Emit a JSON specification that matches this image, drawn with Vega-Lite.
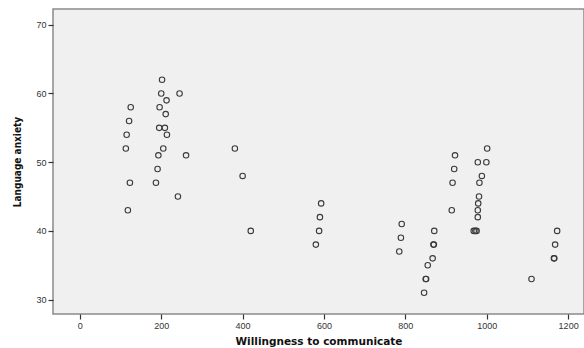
{
  "$schema": "https://vega.github.io/schema/vega-lite/v6.json",
  "width": 531,
  "height": 305,
  "autosize": {"type": "none"},
  "padding": {"left": 53, "top": 9, "right": 0, "bottom": 34},
  "background": "white",
  "view": {"fill": "#f0f0f0", "stroke": "#8a8a8a", "strokeWidth": 1.5},
  "data": {
    "values": [
      {"wtc": 202, "anx": 62}, {"wtc": 200, "anx": 60}, {"wtc": 245, "anx": 60},
      {"wtc": 213, "anx": 59}, {"wtc": 125, "anx": 58}, {"wtc": 196, "anx": 58},
      {"wtc": 211, "anx": 57}, {"wtc": 121, "anx": 56}, {"wtc": 195, "anx": 55},
      {"wtc": 209, "anx": 55}, {"wtc": 115, "anx": 54}, {"wtc": 214, "anx": 54},
      {"wtc": 113, "anx": 52}, {"wtc": 205, "anx": 52}, {"wtc": 193, "anx": 51},
      {"wtc": 261, "anx": 51}, {"wtc": 191, "anx": 49}, {"wtc": 123, "anx": 47},
      {"wtc": 187, "anx": 47}, {"wtc": 241, "anx": 45}, {"wtc": 118, "anx": 43},
      {"wtc": 381, "anx": 52}, {"wtc": 400, "anx": 48}, {"wtc": 420, "anx": 40},
      {"wtc": 593, "anx": 44}, {"wtc": 590, "anx": 42}, {"wtc": 588, "anx": 40},
      {"wtc": 580, "anx": 38},
      {"wtc": 791, "anx": 41}, {"wtc": 789, "anx": 39}, {"wtc": 785, "anx": 37},
      {"wtc": 871, "anx": 40}, {"wtc": 869, "anx": 38}, {"wtc": 870, "anx": 38},
      {"wtc": 867, "anx": 36}, {"wtc": 855, "anx": 35}, {"wtc": 850, "anx": 33},
      {"wtc": 851, "anx": 33}, {"wtc": 846, "anx": 31},
      {"wtc": 1001, "anx": 52}, {"wtc": 922, "anx": 51}, {"wtc": 978, "anx": 50},
      {"wtc": 999, "anx": 50}, {"wtc": 920, "anx": 49}, {"wtc": 988, "anx": 48},
      {"wtc": 916, "anx": 47}, {"wtc": 982, "anx": 47}, {"wtc": 981, "anx": 45},
      {"wtc": 979, "anx": 44}, {"wtc": 978, "anx": 43}, {"wtc": 914, "anx": 43},
      {"wtc": 978, "anx": 42}, {"wtc": 968, "anx": 40}, {"wtc": 972, "anx": 40},
      {"wtc": 975, "anx": 40},
      {"wtc": 1173, "anx": 40}, {"wtc": 1168, "anx": 38}, {"wtc": 1165, "anx": 36},
      {"wtc": 1166, "anx": 36}, {"wtc": 1110, "anx": 33}
    ]
  },
  "mark": {"type": "point", "shape": "circle", "filled": false, "stroke": "#3a3a3a", "strokeWidth": 1.1, "size": 30, "opacity": 1},
  "encoding": {
    "x": {
      "field": "wtc", "type": "quantitative",
      "scale": {"domain": [-66, 1239], "nice": false, "zero": false},
      "axis": {
        "title": "Willingness to communicate",
        "values": [0, 200, 400, 600, 800, 1000, 1200],
        "format": "d",
        "grid": false, "domain": false,
        "tickSize": 5, "tickColor": "#333", "tickWidth": 1.2,
        "labelFont": "Liberation Sans", "labelFontSize": 9, "labelColor": "#333", "labelPadding": 2,
        "titleFont": "DejaVu Sans", "titleFontSize": 10.5, "titleFontWeight": "bold", "titleColor": "#111",
        "titleY": 27, "titleBaseline": "middle"
      }
    },
    "y": {
      "field": "anx", "type": "quantitative",
      "scale": {"domain": [27.9, 72.3], "nice": false, "zero": false},
      "axis": {
        "title": "Language anxiety",
        "values": [30, 40, 50, 60, 70],
        "format": "d",
        "grid": false, "domain": false,
        "tickSize": 5, "tickColor": "#333", "tickWidth": 1.2,
        "labelFont": "Liberation Sans", "labelFontSize": 9, "labelColor": "#333", "labelPadding": 2,
        "titleFont": "DejaVu Sans Condensed", "titleFontSize": 10, "titleFontWeight": "bold", "titleColor": "#111",
        "titleX": -36, "titleBaseline": "middle", "titleAngle": -90
      }
    }
  }
}
